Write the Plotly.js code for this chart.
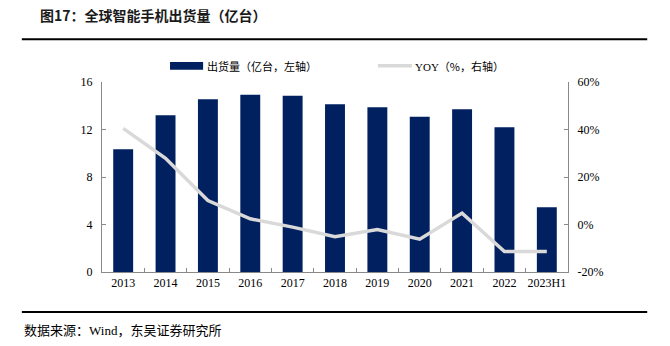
<!DOCTYPE html>
<html><head><meta charset="utf-8">
<script src="https://cdn.plot.ly/plotly-3.0.1.min.js"></script>
<style>html,body{margin:0;padding:0;background:#fff}#chart{width:670px;height:346px}</style>
</head><body><div id="chart"></div>
<script>
const categories = ['2013','2014','2015','2016','2017','2018','2019','2020','2021','2022','2023H1'];
const shipments = [10.33, 13.2, 14.54, 14.93, 14.85, 14.12, 13.87, 13.08, 13.7, 12.18, 5.45];
const yoy = [40.5, 27.9, 10.1, 2.4, -1.1, -5.1, -2.1, -6.2, 4.8, -11.4, -11.4];
const leftTicks = [0, 4, 8, 12, 16];
const rightTicks = [-20, 0, 20, 40, 60];

const FONT = 'Liberation Serif, Times New Roman, Noto Sans CJK SC, serif';
const CJK = 'Noto Sans CJK SC, sans-serif';
const axisCol = '#898989';

const traces = [
  {type:'bar', x:categories, y:shipments, marker:{color:'#002060'}, width:0.47, name:'出货量（亿台，左轴）', showlegend:false, hoverinfo:'none'},
  {type:'scatter', mode:'lines', x:categories, y:yoy, yaxis:'y2', line:{color:'#d9d9d9', width:3.5}, name:'YOY（%，右轴）', showlegend:false, hoverinfo:'none'}
];

const layout = {
  width:670, height:346,
  margin:{l:102, r:102, t:82, b:74},
  paper_bgcolor:'#fff', plot_bgcolor:'#fff',
  font:{family:FONT, size:12, color:'#000'},
  bargap:0.5,
  xaxis:{type:'category', showline:true, linecolor:axisCol, linewidth:1, ticks:'inside', tickson:'boundaries', ticklen:4, tickcolor:axisCol, showgrid:false, tickangle:0, tickfont:{family:FONT, size:12, color:'#000'}, zeroline:false, range:[-0.5,10.5]},
  yaxis:{range:[0,16], tickvals:leftTicks, ticktext:leftTicks.map(String), showline:true, linecolor:axisCol, ticks:'inside', ticklen:4, tickcolor:axisCol, showgrid:false, zeroline:false, tickfont:{family:FONT, size:12, color:'#000'}, ticklabelstandoff:6},
  yaxis2:{overlaying:'y', side:'right', range:[-20,60], tickvals:rightTicks, ticktext:rightTicks.map(v=>v+'%'), showline:true, linecolor:axisCol, ticks:'inside', ticklen:4, tickcolor:axisCol, showgrid:false, zeroline:false, tickfont:{family:FONT, size:12, color:'#000'}, ticklabelstandoff:6},
  shapes:[
    {type:'line', xref:'paper', yref:'paper', x0:-0.172, x1:1.17, y0:1.225, y1:1.225, line:{color:'#000', width:2}},
    {type:'line', xref:'paper', yref:'paper', x0:-0.172, x1:1.17, y0:-0.21, y1:-0.21, line:{color:'#000', width:2}},
    {type:'rect', xref:'paper', yref:'paper', x0:0.146, x1:0.217, y0:1.065, y1:1.105, fillcolor:'#002060', line:{width:0}},
    {type:'line', xref:'paper', yref:'paper', x0:0.592, x1:0.665, y0:1.085, y1:1.085, line:{color:'#d9d9d9', width:3.5}}
  ],
  annotations:[
    {xref:'paper', yref:'paper', x:-0.137, y:1.35, xanchor:'left', yanchor:'middle', showarrow:false, text:'<b>图17：全球智能手机出货量（亿台）</b>', font:{family:CJK, size:14, color:'#1a1a1a'}},
    {xref:'paper', yref:'paper', x:0.222, y:1.085, xanchor:'left', yanchor:'middle', showarrow:false, text:'出货量（亿台，左轴）', font:{family:CJK, size:11, color:'#000'}},
    {xref:'paper', yref:'paper', x:0.668, y:1.085, xanchor:'left', yanchor:'middle', showarrow:false, text:'<span style="font-family:Liberation Serif">YOY</span>（%，右轴）', font:{family:CJK, size:11, color:'#000'}},
    {xref:'paper', yref:'paper', x:-0.172, y:-0.3, xanchor:'left', yanchor:'middle', showarrow:false, text:'数据来源：<span style="font-family:Liberation Serif">Wind</span>，东吴证券研究所', font:{family:CJK, size:13, color:'#000'}}
  ]
};

Plotly.newPlot('chart', traces, layout, {staticPlot:true, displayModeBar:false});
</script></body></html>
